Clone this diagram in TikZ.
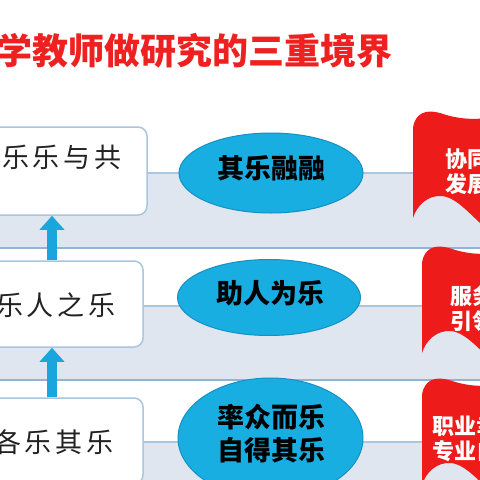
\documentclass[tikz,border=0pt]{standalone}
\usepackage{fontspec}
\newfontfamily\cjk{Noto Sans CJK SC}
\newfontfamily\cjkbox[LetterSpace=14]{Noto Sans CJK SC}
\usetikzlibrary{arrows.meta,shapes.geometric}
\definecolor{bandfill}{HTML}{DFE6F0}
\definecolor{bandtop}{HTML}{A9C6DE}
\definecolor{bandbot}{HTML}{94B3D2}
\definecolor{boxline}{HTML}{A9C6DE}
\definecolor{ellfill}{HTML}{18AEE2}
\definecolor{ellline}{HTML}{1590C4}
\definecolor{arrowc}{HTML}{1AA6DC}
\definecolor{flagred}{HTML}{EE1B1B}
\definecolor{titlered}{HTML}{EE2020}
\definecolor{boxtext}{HTML}{222222}
\tikzset{
  boxst/.style={draw=boxline, line width=1.5pt, fill=white, rounded corners=9pt, inner sep=0pt},
  boxtxt/.style={anchor=west, inner sep=0pt, text=boxtext, font=\cjkbox\fontsize{27}{30}\selectfont},
  ellst/.style={ellipse, draw=ellline, line width=1pt, fill=ellfill, inner sep=0pt},
  elltxt/.style={inner sep=0pt, align=center, font=\cjk\bfseries\fontsize{27}{33}\selectfont},
  flagtxt/.style={anchor=west, inner sep=0pt, align=left, text=white, font=\cjk\bfseries\fontsize{22}{25}\selectfont},
  uparrow/.style={draw=arrowc, line width=10pt, -{Triangle[length=14pt,width=24pt]}},
  flagst/.style={fill=flagred},
}
\begin{document}
\begin{tikzpicture}[x=1pt,y=-1pt]
\useasboundingbox (0,0) rectangle (480,480);
\clip (0,0) rectangle (480,480);
\fill[white] (0,0) rectangle (480,480);
% bands
\fill[bandfill] (-10,173) rectangle (500,248);
\fill[bandfill] (-10,306) rectangle (500,380);
\fill[bandfill] (-10,442) rectangle (500,500);
\draw[bandtop, line width=1.6pt] (-10,173) -- (500,173);
\draw[bandbot, line width=1.6pt] (-10,248) -- (500,248);
\draw[bandtop, line width=1.6pt] (-10,306) -- (500,306);
\draw[bandbot, line width=1.6pt] (-10,380) -- (500,380);
\draw[bandtop, line width=1.6pt] (-10,442) -- (500,442);
% title
\node[anchor=west, inner sep=0pt, text=titlered, font=\cjk\bfseries\fontsize{36}{40}\selectfont] (title) at (-4,51) {学教师做研究的三重境界};
% boxes
\node[boxst, minimum width=167pt, minimum height=88pt] (b1) at (63.5,171) {};
\node[boxst, minimum width=163pt, minimum height=86pt] (b2) at (61.5,304) {};
\node[boxst, minimum width=163pt, minimum height=86pt] (b3) at (61.5,441) {};
\node[boxtxt] (t1) at (2,157) {乐乐与共};
\node[boxtxt] (t2) at (-4,305) {乐人之乐};
\node[boxtxt] (t3) at (-6,442) {各乐其乐};
% arrows
\coordinate (ax) at (52,0);
\draw[uparrow] (b2.north -| ax) -- (b1.south -| ax);
\draw[uparrow] (b3.north -| ax) -- (b2.south -| ax);
% ellipses
\node[ellst, minimum width=184pt, minimum height=80pt] (e1) at (271,173) {};
\node[ellst, minimum width=183pt, minimum height=76pt] (e2) at (269,297.5) {};
\node[ellst, minimum width=185pt, minimum height=120pt] (e3) at (270.5,438) {};
\node[elltxt] (e1t) at (271,168) {其乐融融};
\node[elltxt] (e2t) at (270,293) {助人为乐};
\node[elltxt] (e3t) at (271,433.5) {率众而乐\\自得其乐};
% flags
\foreach \dx/\dy in {0/0, 9/135, 9/267}{
  \fill[flagst, shift={(\dx,\dy)}] (413,128) .. controls (415,113) and (426,109) .. (440,113)
    .. controls (455,118) and (470,121) .. (495,117) -- (495,235)
    .. controls (475,222) and (460,198) .. (442,196)
    .. controls (428,195) and (417,205) .. (413,218) -- cycle;
}
\node[flagtxt] (f1t) at (445,171.5) {协同\\发展};
\node[flagtxt] (f2t) at (450,308.5) {服务\\引领};
\node[flagtxt] (f3t) at (432,438.5) {职业幸\\专业自};
\end{tikzpicture}
\end{document}
